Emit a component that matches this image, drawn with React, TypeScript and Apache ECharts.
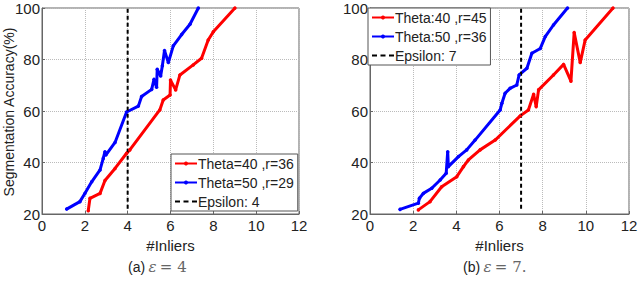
import React, { useEffect, useRef } from "react";
import * as echarts from "echarts";

// Left panel (epsilon = 4)
const leftRed: [number, number][] = [
  [2.16, 21.3], [2.24, 26.1], [2.71, 28], [2.94, 33], [3.41, 37.7], [3.95, 43.6],
  [4.1, 44.9], [5.5, 60.4], [5.66, 64.3], [5.98, 66.2], [6.0, 72.0], [6.24, 68.2],
  [6.44, 74.0], [7.06, 77.9], [7.45, 80.5], [7.76, 87.6], [8.0, 90.8], [9.01, 100],
];
const leftBlue: [number, number][] = [
  [1.15, 21.9], [1.77, 24.8], [2.0, 28], [2.32, 32.5], [2.71, 37.1], [2.86, 41.6],
  [2.94, 44.2], [2.98, 42.9], [3.41, 47.8], [3.95, 59.6], [4.5, 61.9], [4.65, 65.6],
  [5.12, 68.4], [5.23, 72.3], [5.35, 69.2], [5.38, 76.2], [5.54, 73.6], [5.62, 77.6],
  [5.72, 83.5], [5.9, 78.8], [6.13, 85.3], [6.52, 89.7], [6.91, 93.7], [7.3, 100],
];
const leftEpsilon = 4;

// Right panel (epsilon = 7)
const rightRed: [number, number][] = [
  [2.24, 21.6], [2.78, 24.8], [3.32, 30.6], [4.02, 34.5], [4.33, 38.4], [4.56, 41],
  [5.1, 44.9], [5.8, 48.7], [6.96, 58.1], [7.34, 60.4], [7.58, 66.5], [7.7, 61.7],
  [7.81, 68.2], [8.5, 74.0], [8.97, 78.1], [9.31, 71.6], [9.46, 90.5], [9.74, 78.8],
  [9.97, 87.6], [11.26, 100],
];
const rightBlue: [number, number][] = [
  [1.39, 21.8], [2.24, 24.2], [2.29, 26.1], [2.47, 28], [2.86, 30], [3.25, 33.2],
  [3.53, 35.8], [3.6, 44.2], [3.63, 38.4], [4.1, 42.3], [4.48, 44.9], [4.87, 48.7],
  [6.03, 60.4], [6.11, 63], [6.26, 66.9], [6.49, 68.8], [6.8, 70.1], [6.91, 74.0],
  [7.27, 76.6], [7.5, 82.4], [7.89, 84.3], [8.12, 88.9], [8.5, 93.4], [9.15, 100],
];
const rightEpsilon = 7;

const xTicks = [0, 2, 4, 6, 8, 10, 12];
const yTicks = [20, 40, 60, 80, 100];
const leftNames = ["Theta=40 ,r=36", "Theta=50 ,r=29", "Epsilon: 4"];
const rightNames = ["Theta:40 ,r=45", "Theta:50 ,r=36", "Epsilon: 7"];
const yTitle = "Segmentation Accuracy(%)";

const FONT = "'Liberation Sans', Arial, sans-serif";
const SERIF = "'DejaVu Serif', serif";
const RED = "#ff0000";
const BLUE = "#0000ff";

// Legend key for the dashed epsilon line: three short dashes, plus a hairline
// sliver so the key's bounding box spans the full icon height.
const DASH_ICON =
  "path://M0,1.5h5v2h-5z M8.5,1.5h5v2h-5z M17,1.5h5v2h-5z M11,0L11.01,0L11.01,5z";

function xAxis(gridIndex: number) {
  return {
    type: "value" as const,
    gridIndex,
    min: xTicks[0],
    max: xTicks[xTicks.length - 1],
    interval: 2,
    name: "#Inliers",
    nameLocation: "middle" as const,
    nameGap: 24,
    nameTextStyle: { color: "#222", fontSize: 15, fontFamily: FONT },
    axisLine: { lineStyle: { color: "#666", width: 1 } },
    axisTick: { inside: true, length: 3, lineStyle: { color: "#666" } },
    axisLabel: { color: "#222", fontSize: 15, fontFamily: FONT, margin: 4 },
    splitLine: { show: true, lineStyle: { color: "#bbbbbb", type: "dotted" as const } },
  };
}

function yAxis(gridIndex: number) {
  return {
    type: "value" as const,
    gridIndex,
    min: yTicks[0],
    max: yTicks[yTicks.length - 1],
    interval: 20,
    axisLine: { lineStyle: { color: "#666", width: 1 } },
    axisTick: { inside: true, length: 3, lineStyle: { color: "#666" } },
    axisLabel: { color: "#222", fontSize: 15, fontFamily: FONT, margin: 2 },
    splitLine: { show: true, lineStyle: { color: "#bbbbbb", type: "dotted" as const } },
  };
}

function curve(name: string, data: [number, number][], color: string, idx: number) {
  return {
    type: "line" as const,
    name,
    xAxisIndex: idx,
    yAxisIndex: idx,
    data,
    symbol: "circle",
    symbolSize: 3.5,
    itemStyle: { color },
    lineStyle: { color, width: 3 },
  };
}

function epsLine(name: string, x: number, idx: number) {
  return {
    type: "line" as const,
    name,
    xAxisIndex: idx,
    yAxisIndex: idx,
    data: [[x, 22], [x, 100]],
    symbol: "none",
    itemStyle: { color: "#000" },
    lineStyle: { color: "#000", width: 2, type: [4, 3] },
  };
}

function legend(names: string[], left: number, top: number) {
  return {
    data: [
      { name: names[0] },
      { name: names[1] },
      { name: names[2], icon: DASH_ICON, itemStyle: { color: "#000", borderWidth: 0 } },
    ],
    orient: "vertical" as const,
    left,
    top,
    itemWidth: 22,
    itemHeight: 5,
    itemGap: 2,
    padding: [1, 4, 1, 3],
    backgroundColor: "#fff",
    borderColor: "#555",
    borderWidth: 1,
    borderRadius: 0,
    textStyle: { color: "#222", fontSize: 14, fontFamily: FONT, lineHeight: 17, padding: [0, 0, 0, -4] },
  };
}

function caption(label: string, rest: string) {
  return {
    text: `{a|${label}} {e|ε} {m|${rest}}`,
    rich: {
      a: { fontSize: 14, fontFamily: FONT, fill: "#222" },
      e: { fontSize: 15, fontFamily: SERIF, fontStyle: "italic", fill: "#666" },
      m: { fontSize: 15, fontFamily: SERIF, fill: "#666" },
    },
  };
}

export default function App() {
  const ref = useRef<HTMLDivElement>(null);
  useEffect(() => {
    if (!ref.current) return;
    const chart = echarts.init(ref.current, null, { renderer: "svg" });
    chart.setOption({
      animation: false,
      backgroundColor: "#fff",
      grid: [
        {
          left: 42, top: 8, width: 257, height: 206, show: true, borderColor: "#666", borderWidth: 1,
          containLabel: false, outerBoundsMode: "none",
        },
        {
          left: 370, top: 8, width: 259, height: 206, show: true, borderColor: "#666", borderWidth: 1,
          containLabel: false, outerBoundsMode: "none",
        },
      ],
      xAxis: [xAxis(0), xAxis(1)],
      yAxis: [yAxis(0), yAxis(1)],
      legend: [legend(leftNames, 171, 154), legend(rightNames, 368, 8)],
      series: [
        curve(leftNames[0], leftRed, RED, 0),
        curve(leftNames[1], leftBlue, BLUE, 0),
        epsLine(leftNames[2], leftEpsilon, 0),
        curve(rightNames[0], rightRed, RED, 1),
        curve(rightNames[1], rightBlue, BLUE, 1),
        epsLine(rightNames[2], rightEpsilon, 1),
      ],
      graphic: [
        {
          type: "text",
          x: 9,
          y: 112,
          rotation: Math.PI / 2,
          style: {
            text: yTitle,
            fontSize: 14,
            fontFamily: FONT,
            fill: "#222",
            align: "center",
            verticalAlign: "middle",
          },
        },
        { type: "text", left: 128, top: 259, style: caption("(a)", "= 4") },
        { type: "text", left: 463, top: 259, style: caption("(b)", "= 7.") },
      ],
    });
    return () => chart.dispose();
  }, []);
  return (
    <div
      ref={ref}
      style={{ position: "fixed", left: 0, top: 0, width: 639, height: 291, background: "#fff" }}
    />
  );
}
